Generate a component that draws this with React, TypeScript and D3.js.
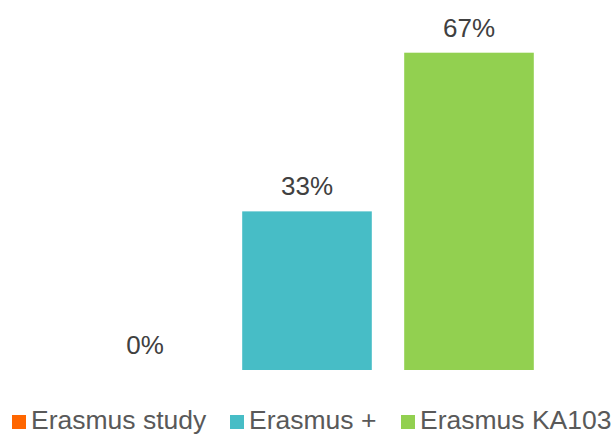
import React from "react";
import * as d3 from "d3";

const categories = ["Erasmus study", "Erasmus +", "Erasmus KA103"];
const values = [0, 33.33, 66.67];
const labels = ["0%", "33%", "67%"];
const colors = ["#FF6600", "#47BDC6", "#92D050"];

const W = 615;
const H = 434;

export default function App() {
  const x = d3.scaleBand<string>().domain(categories).range([64, 550]).paddingInner(0.2).paddingOuter(0.1);
  const y = d3.scaleLinear().domain([0, 66.67]).range([370, 52.7]);
  const legendX = [12, 230, 401];
  const font = "'Liberation Sans', Arial, Helvetica, sans-serif";
  return (
    <div style={{ position: "absolute", left: 0, top: 0 }}>
      <svg width={W} height={H} style={{ display: "block" }}>
        <rect width={W} height={H} fill="#fff" />
        {categories.map((c, i) => (
          <g key={c}>
            <rect x={x(c)} y={y(values[i])} width={x.bandwidth()} height={y(0) - y(values[i])} fill={colors[i]} />
            <text
              x={(x(c) as number) + x.bandwidth() / 2}
              y={y(values[i]) - 16}
              textAnchor="middle"
              fontFamily={font}
              fontSize={26}
              fill="#404040"
            >
              {labels[i]}
            </text>
          </g>
        ))}
        {categories.map((c, i) => (
          <g key={"l" + c}>
            <rect x={legendX[i]} y={415} width={14} height={14} fill={colors[i]} />
            <text x={legendX[i] + 19} y={429} fontFamily={font} fontSize={26.5} fill="#595959">
              {c}
            </text>
          </g>
        ))}
      </svg>
    </div>
  );
}
